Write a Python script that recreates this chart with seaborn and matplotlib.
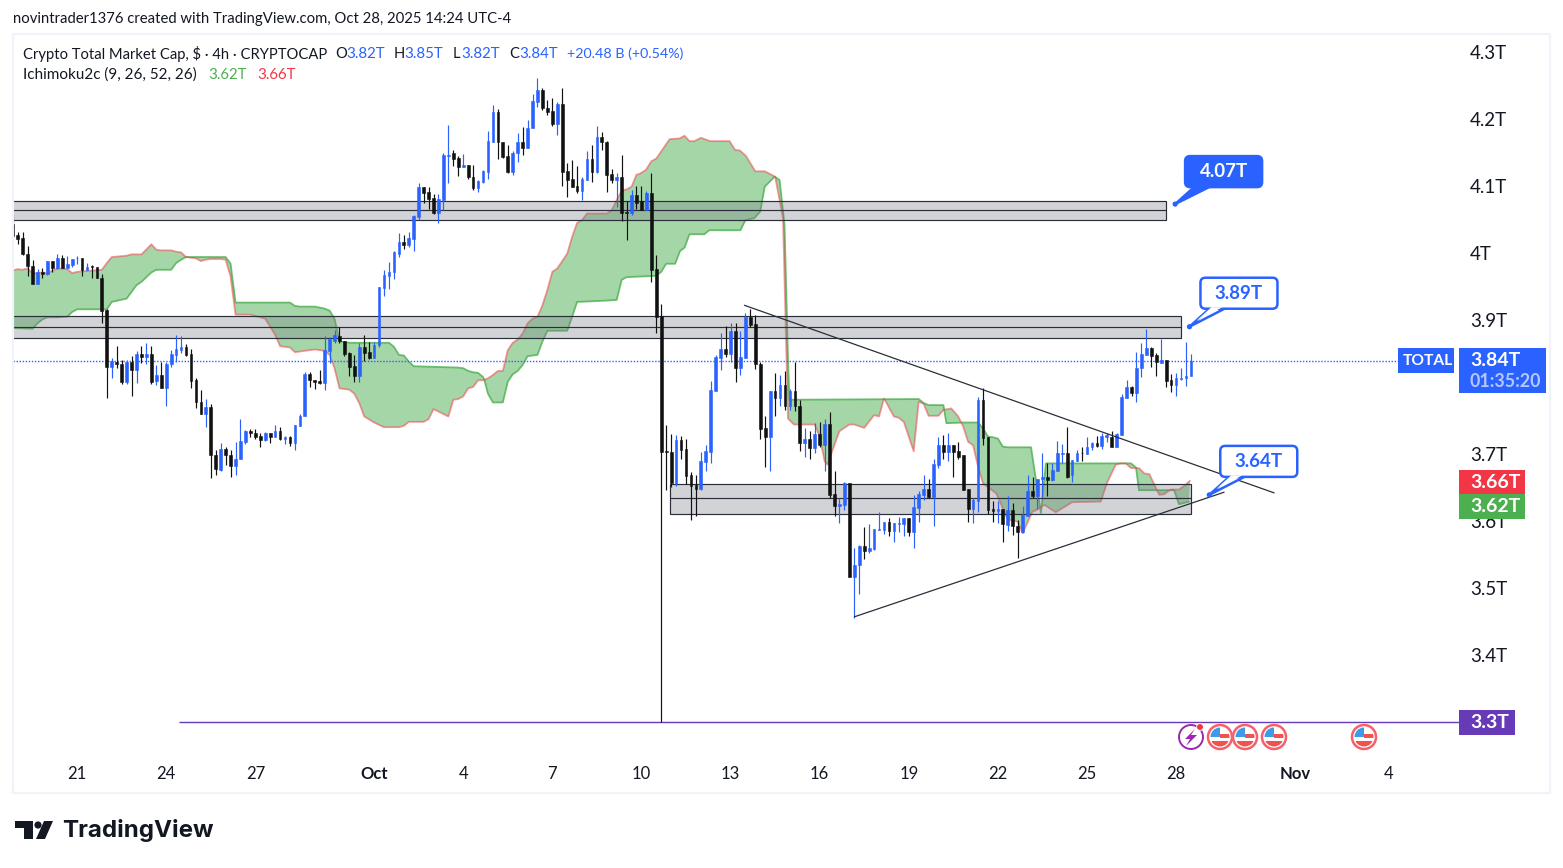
import numpy as np
import matplotlib
matplotlib.use("Agg")
import matplotlib.pyplot as plt
import seaborn as sns
from matplotlib.patches import Circle, FancyBboxPatch, Polygon, Rectangle
from matplotlib.transforms import IdentityTransform

# 4h candles, prices in trillions
opens = [
    4.044,4.027,4.022,3.999,3.981,3.954,3.972,3.969,3.988,3.977,
    3.992,3.978,3.982,3.992,3.992,3.975,3.980,3.979,3.963,3.915,
    3.830,3.838,3.835,3.808,3.838,3.825,3.850,3.845,3.850,3.809,
    3.818,3.799,3.835,3.848,3.855,3.859,3.849,3.810,3.778,3.760,
    3.770,3.698,3.676,3.708,3.699,3.682,3.693,3.718,3.735,3.732,
    3.727,3.721,3.731,3.726,3.734,3.723,3.725,3.716,3.742,3.756,
    3.819,3.811,3.809,3.806,3.854,3.869,3.876,3.869,3.851,3.831,
    3.817,3.859,3.852,3.844,3.862,3.948,3.966,3.971,3.998,4.017,
    4.012,4.021,4.054,4.098,4.091,4.082,4.060,4.079,4.145,4.149,
    4.142,4.129,4.131,4.114,4.097,4.106,4.121,4.166,4.210,4.165,
    4.145,4.121,4.149,4.166,4.157,4.186,4.226,4.243,4.217,4.212,
    4.192,4.222,4.122,4.110,4.100,4.093,4.109,4.141,4.121,4.173,
    4.166,4.118,4.109,4.113,4.061,4.059,4.087,4.077,4.064,4.090,
    3.976,3.906,3.704,3.703,3.656,3.721,3.708,3.668,3.654,3.648,
    3.688,3.703,3.794,3.844,3.857,3.849,3.883,3.829,3.844,3.905,
    3.894,3.835,3.739,3.726,3.794,3.784,3.803,3.771,3.794,3.772,
    3.717,3.723,3.709,3.730,3.714,3.745,3.640,3.622,3.624,3.656,
    3.517,3.534,3.563,3.555,3.558,3.587,3.587,3.598,3.585,3.596,
    3.596,3.604,3.584,3.620,3.639,3.648,3.636,3.684,3.714,3.703,
    3.713,3.704,3.698,3.648,3.618,3.630,3.781,3.726,3.618,3.615,
    3.618,3.594,3.616,3.593,3.584,3.608,3.645,3.637,3.662,3.665,
    3.661,3.675,3.700,3.701,3.668,3.690,3.702,3.700,3.710,3.716,
    3.712,3.726,3.726,3.711,3.729,3.784,3.800,3.791,3.829,3.848,
    3.858,3.848,3.836,3.841,3.810,3.803,3.812,3.813,3.817,
]
highs = [
    4.058,4.031,4.031,4.010,3.990,3.976,3.977,3.988,3.988,3.998,
    3.997,3.995,3.991,3.996,3.992,3.985,3.982,3.979,3.969,3.916,
    3.843,3.861,3.840,3.840,3.846,3.854,3.861,3.865,3.861,3.833,
    3.837,3.838,3.855,3.878,3.876,3.864,3.856,3.813,3.795,3.782,
    3.774,3.706,3.716,3.711,3.706,3.718,3.753,3.736,3.737,3.738,
    3.731,3.733,3.731,3.743,3.740,3.727,3.727,3.743,3.760,3.822,
    3.822,3.811,3.825,3.876,3.875,3.885,3.889,3.869,3.853,3.848,
    3.865,3.878,3.867,3.867,3.949,3.975,3.987,4.003,4.030,4.027,
    4.031,4.057,4.105,4.099,4.099,4.088,4.088,4.149,4.191,4.154,
    4.145,4.148,4.132,4.131,4.109,4.124,4.182,4.221,4.215,4.165,
    4.161,4.153,4.179,4.188,4.198,4.237,4.261,4.247,4.229,4.231,
    4.225,4.246,4.135,4.139,4.130,4.114,4.152,4.161,4.190,4.181,
    4.167,4.125,4.119,4.146,4.077,4.094,4.100,4.100,4.093,4.119,
    3.997,3.924,3.744,3.730,3.729,3.727,3.723,3.673,3.668,3.703,
    3.714,3.809,3.848,3.880,3.891,3.895,3.895,3.883,3.910,3.917,
    3.907,3.837,3.757,3.794,3.821,3.818,3.824,3.797,3.838,3.781,
    3.739,3.735,3.747,3.748,3.753,3.762,3.675,3.634,3.658,3.657,
    3.559,3.564,3.591,3.595,3.588,3.613,3.598,3.604,3.597,3.606,
    3.604,3.604,3.639,3.645,3.669,3.663,3.693,3.726,3.728,3.732,
    3.713,3.718,3.699,3.648,3.634,3.785,3.798,3.726,3.630,3.630,
    3.618,3.637,3.627,3.601,3.622,3.669,3.665,3.663,3.702,3.686,
    3.686,3.719,3.715,3.740,3.691,3.706,3.711,3.725,3.718,3.727,
    3.732,3.731,3.734,3.731,3.790,3.810,3.801,3.852,3.865,3.887,
    3.859,3.851,3.872,3.841,3.820,3.821,3.829,3.867,3.849,
]
lows = [
    4.026,4.013,3.997,3.966,3.954,3.954,3.963,3.967,3.971,3.976,
    3.977,3.977,3.979,3.984,3.966,3.975,3.962,3.962,3.896,3.784,
    3.814,3.829,3.805,3.805,3.786,3.806,3.836,3.835,3.805,3.803,
    3.799,3.772,3.830,3.838,3.851,3.846,3.798,3.768,3.760,3.740,
    3.664,3.668,3.675,3.684,3.665,3.669,3.693,3.715,3.725,3.723,
    3.711,3.720,3.717,3.725,3.721,3.715,3.712,3.706,3.742,3.756,
    3.800,3.797,3.804,3.796,3.836,3.866,3.865,3.847,3.816,3.808,
    3.808,3.839,3.842,3.844,3.860,3.936,3.946,3.961,3.994,4.006,
    4.009,4.003,4.050,4.075,4.066,4.058,4.045,4.064,4.105,4.130,
    4.115,4.128,4.111,4.094,4.091,4.105,4.110,4.166,4.140,4.142,
    4.119,4.117,4.136,4.146,4.157,4.186,4.218,4.214,4.206,4.189,
    4.176,4.100,4.084,4.099,4.090,4.079,4.109,4.106,4.119,4.154,
    4.091,4.105,4.069,4.048,4.019,4.057,4.066,4.064,4.064,3.956,
    3.881,3.300,3.646,3.651,3.652,3.693,3.655,3.602,3.608,3.646,
    3.674,3.687,3.794,3.826,3.845,3.837,3.807,3.818,3.844,3.889,
    3.827,3.723,3.681,3.675,3.757,3.772,3.765,3.765,3.764,3.705,
    3.695,3.693,3.702,3.711,3.675,3.634,3.607,3.597,3.617,3.517,
    3.455,3.491,3.543,3.552,3.556,3.587,3.580,3.577,3.569,3.584,
    3.578,3.578,3.560,3.599,3.631,3.634,3.593,3.679,3.693,3.689,
    3.666,3.692,3.646,3.598,3.597,3.614,3.713,3.611,3.599,3.597,
    3.568,3.585,3.579,3.545,3.582,3.607,3.635,3.618,3.636,3.638,
    3.660,3.674,3.686,3.664,3.658,3.689,3.689,3.700,3.706,3.711,
    3.707,3.718,3.711,3.710,3.729,3.784,3.786,3.777,3.815,3.848,
    3.830,3.817,3.836,3.800,3.792,3.787,3.811,3.802,3.817,
]
closes = [
    4.026,4.021,3.998,3.980,3.954,3.971,3.969,3.988,3.977,3.992,
    3.978,3.983,3.991,3.993,3.975,3.979,3.979,3.962,3.914,3.830,
    3.839,3.835,3.808,3.838,3.825,3.850,3.845,3.850,3.808,3.818,
    3.799,3.835,3.849,3.856,3.859,3.848,3.809,3.777,3.760,3.770,
    3.698,3.677,3.708,3.698,3.682,3.693,3.719,3.735,3.732,3.726,
    3.721,3.731,3.726,3.734,3.723,3.725,3.716,3.743,3.757,3.819,
    3.810,3.808,3.806,3.855,3.871,3.877,3.869,3.849,3.830,3.817,
    3.859,3.851,3.844,3.863,3.949,3.967,3.971,4.002,4.017,4.012,
    4.022,4.055,4.098,4.090,4.081,4.060,4.080,4.146,4.147,4.141,
    4.129,4.131,4.113,4.097,4.107,4.122,4.167,4.210,4.165,4.144,
    4.121,4.150,4.165,4.157,4.187,4.227,4.243,4.216,4.211,4.193,
    4.222,4.121,4.109,4.099,4.093,4.110,4.141,4.121,4.173,4.165,
    4.117,4.109,4.113,4.060,4.060,4.086,4.075,4.064,4.090,3.975,
    3.905,3.703,3.703,3.657,3.721,3.706,3.667,3.653,3.648,3.689,
    3.705,3.796,3.845,3.857,3.849,3.884,3.829,3.845,3.905,3.893,
    3.835,3.738,3.726,3.794,3.784,3.803,3.772,3.794,3.771,3.717,
    3.723,3.709,3.730,3.714,3.745,3.639,3.622,3.626,3.656,3.517,
    3.534,3.563,3.555,3.559,3.588,3.588,3.598,3.585,3.597,3.597,
    3.604,3.584,3.621,3.641,3.648,3.636,3.685,3.713,3.703,3.713,
    3.703,3.696,3.646,3.618,3.631,3.781,3.724,3.616,3.615,3.618,
    3.595,3.616,3.592,3.584,3.609,3.645,3.637,3.663,3.665,3.661,
    3.676,3.701,3.701,3.666,3.691,3.701,3.701,3.711,3.716,3.712,
    3.727,3.728,3.711,3.730,3.785,3.800,3.791,3.829,3.849,3.858,
    3.846,3.837,3.841,3.809,3.803,3.813,3.814,3.817,3.839,
]

# ichimoku outlines, read at the corners of each line (bar number, price)
green_bars = [
    0,4,5,6,7,9,11,12,13,19,20,23,24,25,26,28,29,32,33,34,35,43,44,45,56,57,58,61,63,64,65,66,
    68,76,77,78,79,80,81,90,91,92,93,94,95,95.3,96,97,99,100,101,102,103,104,106,107,108,112,
    113,114,120,122,123,124,130,131,132,133.8,134.8,135.7,136.7,139.7,140.7,147,148,149.8,151,
    151.9,153.9,154.9,155.9,156.6,156.9,183,184,185,187.5,188,188.6,192,195,196,197,198,199,
    200,201,205.7,206.7,207.7,208.7,225.9,226.9,227.5,234.6,235.6,237.6,
]
green_prices = [
    3.888,3.887,3.895,3.901,3.904,3.904,3.905,3.912,3.916,3.916,3.927,3.932,3.942,3.952,3.957,
    3.971,3.975,3.975,3.985,3.990,3.994,3.994,3.984,3.926,3.926,3.921,3.920,3.920,3.917,3.914,
    3.902,3.868,3.866,3.866,3.860,3.848,3.847,3.838,3.831,3.829,3.828,3.824,3.822,3.821,3.815,
    3.810,3.790,3.777,3.777,3.808,3.819,3.824,3.833,3.846,3.848,3.868,3.884,3.884,3.905,3.927,
    3.929,3.930,3.960,3.964,3.966,3.972,3.984,3.984,4.003,4.008,4.028,4.028,4.034,4.034,4.049,
    4.052,4.062,4.099,4.114,4.109,4.042,3.843,3.781,3.782,3.776,3.773,3.773,3.773,3.746,3.747,
    3.747,3.738,3.726,3.725,3.723,3.711,3.710,3.710,3.661,3.612,3.686,3.686,3.680,3.646,3.646,
    3.625,3.629,
]
red_bars = [
    0,1,2,3,4,5,6,7,9,11,12,13,18,19,20,23,24,26,28,29,30,32,33,34,35,37,38,39,40,42,43,44,45,
    48,50,51,52,53,54,56,57,58,61,63,64,65,66,68,69,70,71,73,75,78,79,80,83,84,85,88,89,90,91,
    92,93,94,95,96,97,98,99,100,101,102,103,104,105,106,107,108,109,110,112,113,114,115,116,
    120,121,122,123,124,125,126,126.6,127.9,129,130,132.7,134.7,135.7,136.7,137.7,139,140.9,
    144.8,145.9,146.9,148.1,150,151.9,154,155.6,156.6,157.8,162,163,164,164.6,166,167,169,170,
    172,174,175,176,178,179,180,181,182,183,184,185,187,188,189.6,191,192,193,194,195,196,198.7,
    201,203,204,206,206.7,208.4,210.7,214,219.8,221,222.8,223.8,224.8,225.9,227.5,228.6,229.6,
    231.6,232.6,233.9,235.6,236.9,237.8,
]
red_prices = [
    3.974,3.976,3.975,3.977,3.970,3.970,3.971,3.970,3.977,3.976,3.970,3.972,3.975,3.985,3.994,
    3.996,3.998,3.998,4.013,4.005,4.004,4.004,4.002,4.001,3.994,3.992,3.988,3.990,3.991,3.991,
    3.990,3.965,3.908,3.908,3.904,3.902,3.890,3.878,3.861,3.859,3.852,3.853,3.856,3.854,3.848,
    3.828,3.798,3.796,3.790,3.776,3.756,3.747,3.740,3.740,3.742,3.748,3.748,3.752,3.767,3.756,
    3.781,3.782,3.786,3.798,3.800,3.810,3.810,3.813,3.818,3.824,3.824,3.855,3.866,3.871,3.880,
    3.895,3.902,3.905,3.922,3.945,3.972,3.977,3.999,4.024,4.045,4.049,4.059,4.059,4.064,4.079,
    4.093,4.095,4.099,4.117,4.118,4.124,4.137,4.141,4.170,4.171,4.175,4.167,4.167,4.172,4.167,
    4.167,4.154,4.153,4.145,4.122,4.122,4.114,4.052,3.753,3.744,3.744,3.726,3.689,3.684,3.714,
    3.734,3.744,3.744,3.739,3.758,3.756,3.783,3.756,3.754,3.748,3.726,3.704,3.778,3.775,3.757,
    3.757,3.766,3.768,3.756,3.741,3.718,3.713,3.681,3.656,3.641,3.602,3.599,3.582,3.614,3.616,
    3.624,3.613,3.628,3.629,3.656,3.684,3.686,3.686,3.679,3.679,3.671,3.670,3.639,3.640,3.647,
    3.647,3.654,3.660,
]

# support and resistance boxes: first bar, last bar, bottom, middle, top
box_starts = [-3, -3, 132.8]
box_ends = [233, 236, 238]
box_bottoms = [4.049, 3.873, 3.611]
box_mids = [4.064, 3.889, 3.634]
box_tops = [4.077, 3.906, 3.655]

trend_bars_upper = [147.8, 254.8]
trend_prices_upper = [3.922, 3.642]
trend_bars_lower = [170, 244.7]
trend_prices_lower = [3.457, 3.643]

last_price = 3.839
level_price = 3.3
level_start = 33.6

price_ticks = [4.3, 4.2, 4.1, 4.0, 3.9, 3.7, 3.6, 3.5, 3.4]
price_labels = ["4.3T", "4.2T", "4.1T", "4T", "3.9T", "3.7T", "3.6T", "3.5T", "3.4T"]
date_ticks = [13, 31, 49, 73, 91, 109, 127, 145, 163, 181, 199, 217, 235, 259, 278]
date_labels = ["21", "24", "27", "Oct", "4", "7", "10", "13", "16", "19", "22", "25", "28", "Nov", "4"]

W, H = 1563, 868
UP = "#2962ff"
DOWN = "#111111"
INK = "#131722"
GREEN = "#4caf50"
RED = "#f23645"
PURPLE = "#673ab7"
FONT = "Lato"

sns.set_theme(style="white")
plt.rcParams["font.family"] = [FONT, "DejaVu Sans"]

fig = plt.figure(figsize=(W / 100, H / 100), dpi=100, facecolor="white")
ax = fig.add_axes([13 / W, 1 - 760 / H, 1446 / W, 725 / H])
ax.set_xlim(0.05, 292.15)
ax.set_ylim(3.2433, 4.3254)
sns.despine(ax=ax, left=True, bottom=True, right=True, top=True)
ident = IdentityTransform()


def px(x, y):
    return (x, H - y)


def fig_text(x, y, s, color=INK, size=10, **kw):
    fig.text(x / W, 1 - y / H, s, color=color, fontsize=size, va="center", **kw)


# cloud
ax.fill(
    np.r_[green_bars, red_bars[::-1]],
    np.r_[green_prices, red_prices[::-1]],
    color=GREEN, alpha=0.5, lw=0, zorder=1,
)
sns.lineplot(x=green_bars, y=green_prices, sort=False, estimator=None, color=GREEN, alpha=0.8, lw=1.3, ax=ax, zorder=1.5)
sns.lineplot(x=red_bars, y=red_prices, sort=False, estimator=None, color=RED, alpha=0.5, lw=1.3, ax=ax, zorder=1.6)

# boxes
for x0, x1, lo, mid, hi in zip(box_starts, box_ends, box_bottoms, box_mids, box_tops):
    ax.add_patch(Rectangle((x0, lo), x1 - x0, hi - lo, fc="#787b86", alpha=0.33, lw=0, zorder=2))
    ax.add_patch(Rectangle((x0, lo), x1 - x0, hi - lo, fc="none", ec="#2a2e39", lw=0.85, zorder=2.1))
    ax.hlines(mid, x0, x1, color="#2a2e39", lw=0.85, zorder=2.1)

ax.hlines(last_price, 0.05, 280, color=UP, lw=1.0, linestyles=(0, (1, 1.2)), zorder=2.2)
ax.hlines(level_price, level_start, 292.15, color=PURPLE, lw=1.0, zorder=2.2)

# candles
bars = np.arange(len(opens))
o, h, l, c = map(np.array, (opens, highs, lows, closes))
colors = np.where(c >= o, UP, DOWN)
ax.vlines(bars, l, h, color=colors, lw=0.85, zorder=3)
ax.bar(bars, np.abs(c - o), width=0.55, bottom=np.minimum(o, c), color=colors, edgecolor=colors, linewidth=0.4, zorder=3.1)

sns.lineplot(x=trend_bars_upper, y=trend_prices_upper, color="#2a2e39", lw=0.9, ax=ax, zorder=4)
sns.lineplot(x=trend_bars_lower, y=trend_prices_lower, color="#2a2e39", lw=0.9, ax=ax, zorder=4)

# axes text
ax.yaxis.tick_right()
ax.set_yticks(price_ticks, price_labels)
ax.set_xticks(date_ticks, date_labels)
ax.tick_params(axis="y", length=0, pad=8, labelsize=13.5, labelcolor=INK)
ax.tick_params(axis="x", length=0, pad=4, labelsize=12, labelcolor=INK)
for lab in ax.get_xticklabels():
    if lab.get_text() in ("Oct", "Nov"):
        lab.set_fontweight("bold")
ax.set_xlabel("")
ax.set_ylabel("")


# labels on the price scale
def price_tag(price, text, color, width, height=25, second=None):
    yc = ax.transData.transform((0, price))[1]
    top = yc + 12.5
    fig.add_artist(Rectangle((1459, top - height), width, height, fc=color, lw=0, transform=ident, zorder=5))
    fig.text(1470 / W, yc / H, text, color="white", fontsize=14, va="center", fontweight="bold", zorder=6)
    if second:
        fig.text(1470 / W, (yc - 21) / H, second, color="#b7c8ff", fontsize=12.8, va="center", fontweight="bold", zorder=6)


price_tag(last_price, "3.84T", UP, 87, 45, "01:35:20")
price_tag(3.658, "3.66T", RED, 66)
price_tag(3.621, "3.62T", GREEN, 66)
price_tag(level_price, "3.3T", PURPLE, 56)
y_total = ax.transData.transform((0, last_price))[1]
fig.add_artist(Rectangle((1398, y_total - 12.5), 56, 25, fc=UP, lw=0, transform=ident, zorder=5))
fig.text(1427.5 / W, y_total / H, "TOTAL", color="white", fontsize=11.2, va="center", ha="center", fontweight="bold", zorder=6)


# callouts with a tail down to the marked price
def callout(bar, price, text, dx, dy, filled):
    ax_, ay_ = ax.transData.transform((bar, price))
    bx, by = ax_ + dx, ay_ + dy
    bw, bh = 77, 31
    face = UP if filled else "white"
    fig.add_artist(Polygon([(ax_, ay_), (bx + 9, by), (bx + 24, by)], fc=face, ec=UP, lw=1.8, transform=ident, zorder=7))
    fig.add_artist(FancyBboxPatch((bx + 3, by + 3), bw - 6, bh - 6, boxstyle="round,pad=3,rounding_size=5", fc=face, ec=UP, lw=1.8, transform=ident, zorder=7.1))
    fig.add_artist(Polygon([(ax_ + 7, ay_ + 6), (bx + 11, by + 1.5), (bx + 22, by + 1.5)], fc=face, lw=0, transform=ident, zorder=7.2))
    fig.add_artist(Circle((ax_, ay_), 2.6, fc=UP, lw=0, transform=ident, zorder=7.3))
    fig.text((bx + bw / 2) / W, (by + bh / 2) / H, text, color="white" if filled else UP, fontsize=13.5,
             fontweight="bold", va="center", ha="center", zorder=7.4)


callout(234.8, 4.073, "4.07T", 10, 17, True)
callout(237.7, 3.890, "3.89T", 11, 18, False)
callout(241.7, 3.639, "3.64T", 11, 18, False)


# events under the chart
def flag(cx, cy):
    ring = Circle(px(cx, cy), 12, fc="white", ec="#f5606a", lw=1.8, transform=ident, zorder=6)
    fig.add_artist(ring)
    clip = Circle(px(cx, cy), 9.5, transform=ident)
    for x0, y0, w, h_, col in [
        (cx - 10, cy - 10, 10, 10, "#3d9be9"),
        (cx, cy - 3, 10, 4, "#ef5350"),
        (cx - 10, cy + 4, 20, 6, "#ef5350"),
    ]:
        r = Rectangle(px(x0, y0 + h_), w, h_, fc=col, lw=0, transform=ident, zorder=6.1)
        fig.add_artist(r)
        r.set_clip_path(clip)


for cx in (1220, 1245, 1274, 1364):
    flag(cx, 737)
fig.add_artist(Circle(px(1191, 737), 12, fc="white", ec="#9c27b0", lw=1.4, transform=ident, zorder=6))
fig.add_artist(Polygon([px(1195, 729), px(1185, 739), px(1190, 739), px(1186, 746), px(1197, 735), px(1191, 735)],
                       fc="#9c27b0", lw=0, transform=ident, zorder=6.1))
fig.add_artist(Circle(px(1200, 727), 3.4, fc=RED, ec="white", lw=0.6, transform=ident, zorder=6.2))

# chart frame
fig.add_artist(Rectangle(px(13, 793), 1537, 759, fc="none", ec="#f0f3fa", lw=1.6, transform=ident, zorder=9))

# header
fig_text(13, 19, "novintrader1376 created with TradingView.com, Oct 28, 2025 14:24 UTC-4", size=10.75)
fig_text(23, 54, "Crypto Total Market Cap, $ · 4h · CRYPTOCAP", size=10.6)
for x, s, col, size in [
    (335, "O", INK, 10.6), (346, "3.82T", UP, 10.8), (394, "H", INK, 10.6), (404, "3.85T", UP, 10.8),
    (453, "L", INK, 10.6), (461, "3.82T", UP, 10.8), (509, "C", INK, 10.6), (519, "3.84T", UP, 10.8),
    (567, "+20.48 B (+0.54%)", UP, 10.3),
]:
    fig_text(x, 54, s, color=col, size=size)
fig_text(23, 75, "Ichimoku2c (9, 26, 52, 26)", size=11)
fig_text(208, 75, "3.62T", color=GREEN, size=10.8)
fig_text(257, 75, "3.66T", color=RED, size=10.8)

# logo
for pts in (
    [(15, 821), (33, 821), (33, 839), (24, 839), (24, 828), (15, 828)],
    [(44, 821), (53, 821), (45, 839), (36, 839)],
):
    fig.add_artist(Polygon([px(*p) for p in pts], fc=INK, lw=0, transform=ident))
fig.add_artist(Circle(px(38, 825), 3.6, fc=INK, lw=0, transform=ident))
fig.text(62 / W, 1 - 831 / H, "TradingView", color=INK, fontsize=17.4, fontweight="bold", family=["Inter", "DejaVu Sans"], va="center")

fig.savefig("out.png", dpi=100)
